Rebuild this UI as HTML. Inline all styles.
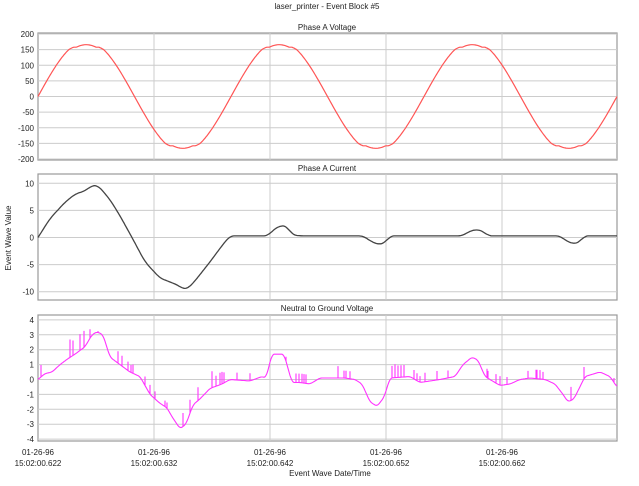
<!DOCTYPE html>
<html><head><meta charset="utf-8"><style>
body{margin:0;background:#fff}
svg text{font-family:"Liberation Sans",sans-serif;font-size:8px;fill:#222}
</style></head><body>
<svg id="s" width="639" height="481" xmlns="http://www.w3.org/2000/svg">
<text x="327" y="9" text-anchor="middle">laser_printer - Event Block #5</text>
<text x="327" y="30" text-anchor="middle">Phase A Voltage</text>
<text x="327" y="171" text-anchor="middle">Phase A Current</text>
<text x="327" y="311" text-anchor="middle">Neutral to Ground Voltage</text>
<text transform="translate(11,238) rotate(-90)" text-anchor="middle">Event Wave Value</text>
<text x="330" y="476" text-anchor="middle">Event Wave Date/Time</text>
<g id="g"></g>
</svg>
<script>
var g=document.getElementById('g'),h='';
var L=38,R=617,vx=[154,270,386,502];
function panel(t,b,ys,labels){
 h+='<rect x="'+L+'" y="'+t+'" width="'+(R-L)+'" height="'+(b-t)+'" fill="#fff" stroke="#999" stroke-width="1.2"/>';
 ys.forEach(function(y,i){h+='<line x1="'+L+'" x2="'+R+'" y1="'+y+'" y2="'+y+'" stroke="#ccc"/>';
  h+='<text x="34" y="'+(y+3)+'" text-anchor="end">'+labels[i]+'</text>';});
 vx.forEach(function(x){h+='<line x1="'+x+'" x2="'+x+'" y1="'+t+'" y2="'+b+'" stroke="#ccc"/>';});
}
var y1=[],l1=[];for(var v=200;v>=-200;v-=50){y1.push(34+(200-v)*125/400);l1.push(v);}
panel(33,160,y1,l1);
var y2=[],l2=[];for(v=10;v>=-10;v-=5){y2.push(237.5-v*5.42);l2.push(v);}
panel(174,300,y2,l2);
var y3=[],l3=[];for(v=4;v>=-4;v--){y3.push(379.5-v*14.9);l3.push(v);}
panel(315,441,y3,l3);
var p='';
for(var x=L;x<=R;x++){var s=Math.sin((x-L)/193*2*Math.PI);var vv=178*s;vv=Math.max(-163,Math.min(163,vv));if(Math.abs(vv)>150)vv=Math.sign(vv)*(150+(Math.abs(vv)-150)*0.6+ (Math.abs(s)>0.95?8*(Math.abs(s)-0.95)/0.05:0));
 var y=34+(200-vv)*125/400;p+=(x==L?'M':'L')+x+','+y.toFixed(1);}
h+='<path d="'+p+'" fill="none" stroke="#f55" stroke-width="1.2"/>';
var cp=[[38,0],[50,3.5],[65,6.5],[75,8],[85,8.6],[92,9.6],[98,9.6],[110,7],[120,4],[132,0],[145,-4.5],[160,-7.5],[170,-8.2],[178,-8.8],[183,-9.5],[188,-9.4],[195,-8],[210,-4.5],[222,-1.5],[230,0.3],[268,0.3],[272,1.2],[280,2.2],[287,2.1],[292,0.5],[300,0.3],[363,0.3],[370,-0.6],[378,-1.3],[385,-1],[390,0.3],[462,0.3],[470,1.2],[478,1.5],[485,0.9],[488,0.3],[560,0.3],[566,-0.6],[574,-1.2],[580,-0.8],[584,0.3],[617,0.3]];
function interp(arr,x){for(var i=1;i<arr.length;i++)if(x<=arr[i][0]){var a=arr[i-1],b=arr[i];return a[1]+(b[1]-a[1])*(x-a[0])/(b[0]-a[0]);}return arr[arr.length-1][1];}
function smooth(arr,x,w){var s=0,n=0;for(var d=-w;d<=w;d++){var xx=Math.max(L,Math.min(R,x+d));s+=interp(arr,xx);n++;}return s/n;}
p='';for(x=L;x<=R;x++){var c=smooth(cp,x,4);if(x<L+4)c=interp(cp,x);p+=(x==L?'M':'L')+x+','+(237.5-c*5.42).toFixed(1);}
h+='<path d="'+p+'" fill="none" stroke="#444" stroke-width="1.3"/>';
var np=[[38,0],[45,0.4],[52,0.5],[60,1.0],[68,1.4],[75,1.7],[85,2.2],[92,3.0],[97,3.2],[103,3.0],[110,1.5],[120,1.0],[130,0.5],[140,0.2],[150,-1],[160,-1.6],[167,-1.9],[172,-2.5],[180,-3.3],[186,-3.0],[193,-1.7],[200,-1.3],[210,-0.6],[222,-0.3],[230,0],[250,-0.1],[262,0.2],[266,0.1],[272,1.7],[284,1.7],[292,-0.2],[300,-0.2],[310,-0.3],[320,0.1],[345,0.1],[355,0],[362,-0.3],[370,-1.5],[377,-1.8],[384,-1.2],[390,0.1],[410,0.2],[420,-0.2],[440,0],[455,0.2],[463,1],[472,1.5],[478,1.3],[485,0.2],[500,-0.4],[510,-0.3],[520,0],[530,0.1],[545,0],[555,-0.3],[563,-1.0],[568,-1.5],[574,-1.3],[585,0.2],[600,0.5],[610,0.2],[617,-0.5]];
var spikes={41:0.8,70:1.2,73:1,80:1.1,84:1.1,90:0.6,98:0.1,118:0.8,122:0.7,128:0.6,131:0.5,133:0.6,145:0.6,150:0.6,155:0.5,165:0.4,167:0.4,183:0.9,190:0.9,198:0.9,212:1.1,216:0.7,220:0.8,222:0.8,224:0.7,237:0.5,250:0.5,286:0.3,296:0.6,299:0.6,302:0.6,304:0.6,306:0.6,338:0.8,344:0.5,346:0.5,350:0.5,392:0.8,395:0.9,398:0.8,401:0.8,404:0.8,414:0.6,417:0.5,420:0.4,425:0.6,437:0.6,448:0.5,487:0.6,488:0.5,496:0.6,500:0.6,507:0.5,528:0.5,536:0.6,537:0.6,540:0.6,543:0.5,571:0.9,584:0.8,614:0.3};
p='';for(x=L;x<=R;x++){var nvv=(x<L+2)?interp(np,x):smooth(np,x,2);var yy=379.5-nvv*14.9;p+=(x==L?'M':'L')+x+','+yy.toFixed(1);
 if(spikes[x]){p+='L'+x+','+(yy-spikes[x]*14.9).toFixed(1)+'L'+x+','+yy.toFixed(1);}}
h+='<path d="'+p+'" fill="none" stroke="#f3f" stroke-width="1.1"/>';
[38,154,270,386,502].forEach(function(x,i){var t=['622','632','642','652','662'][i];
 h+='<text x="'+x+'" y="455" text-anchor="middle">01-26-96</text><text x="'+x+'" y="466" text-anchor="middle">15:02:00.'+t+'</text>';});
g.innerHTML=h;
</script>
</body></html>
